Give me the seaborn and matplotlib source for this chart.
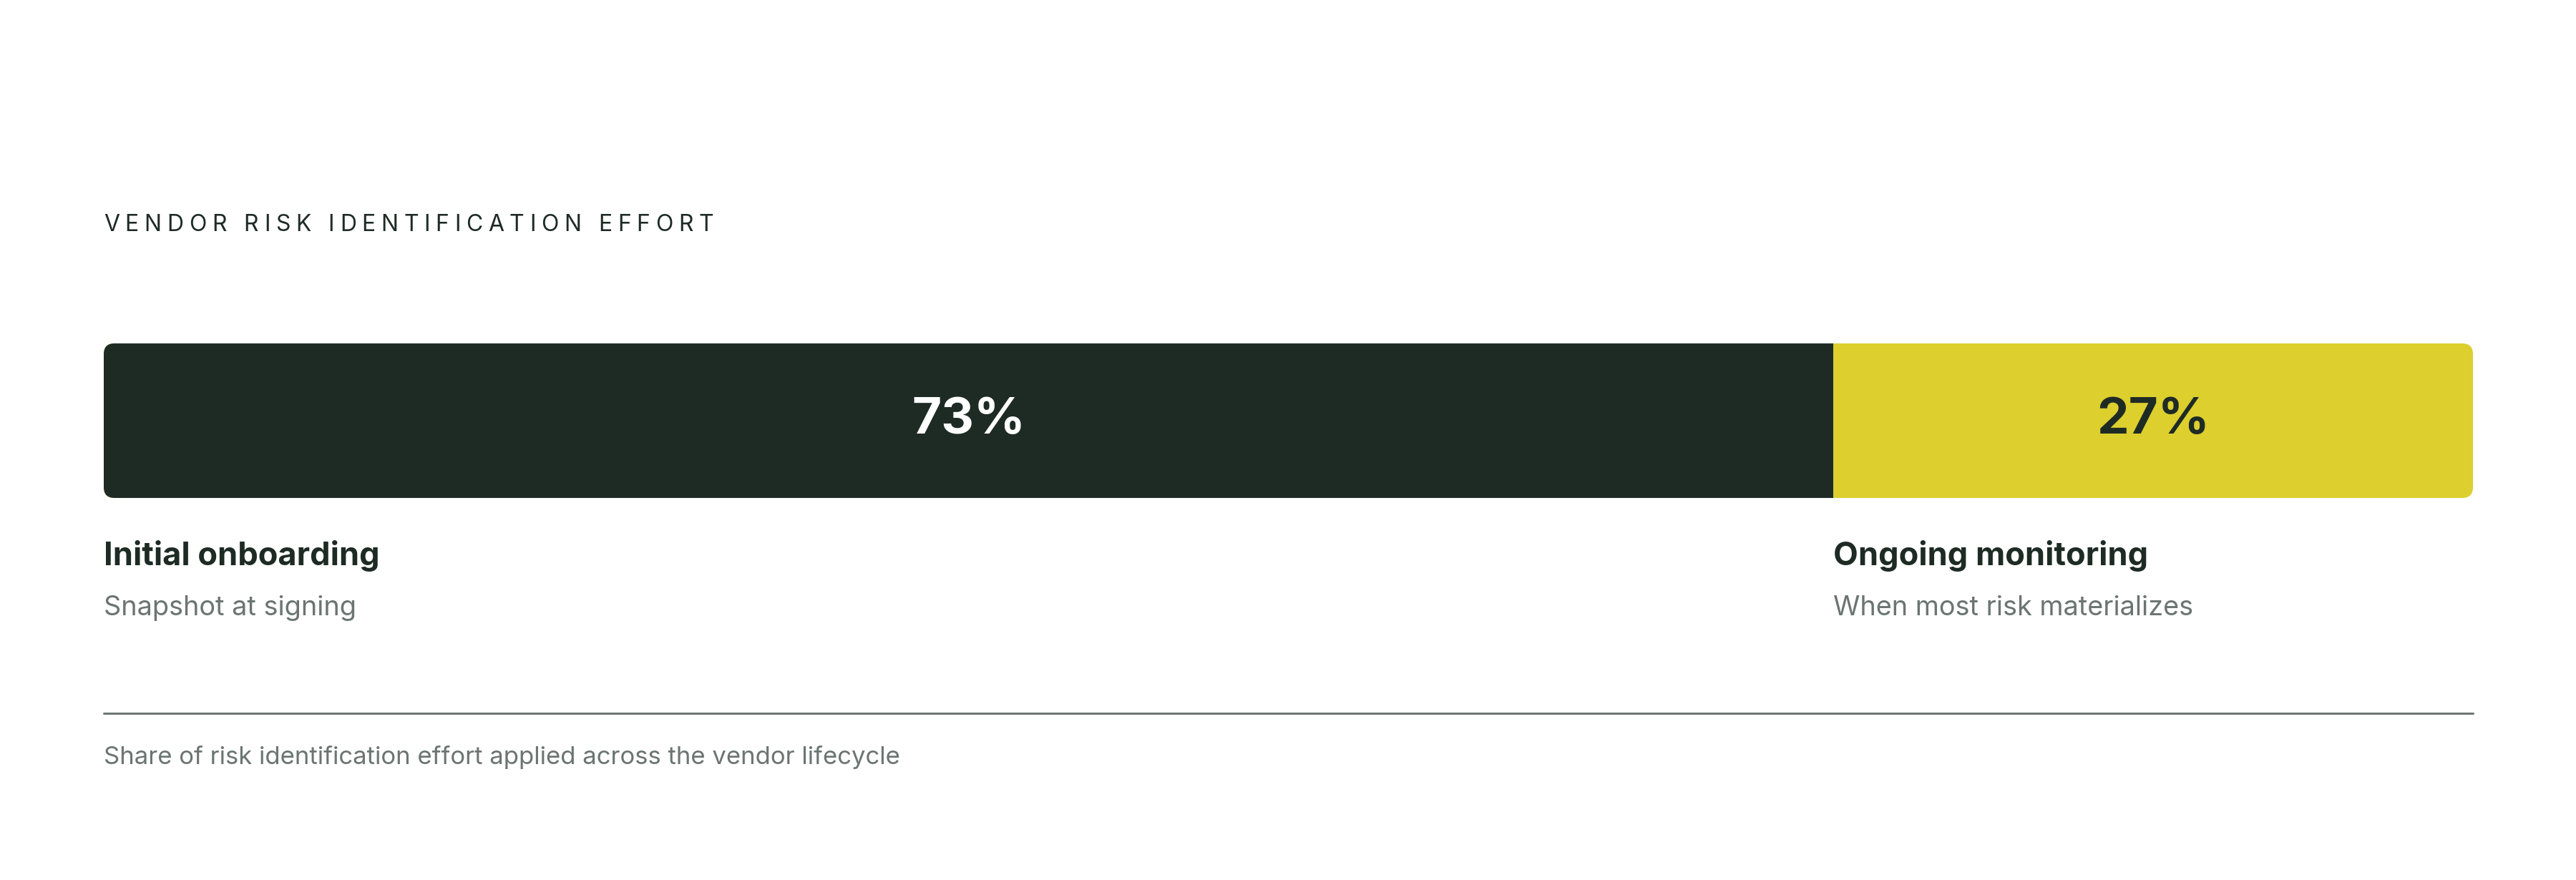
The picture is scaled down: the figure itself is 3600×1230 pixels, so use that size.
import numpy as np
import pandas as pd
import seaborn as sns
import matplotlib.pyplot as plt
from matplotlib.patches import FancyBboxPatch
from matplotlib.transforms import IdentityTransform, blended_transform_factory

# data
segments = ["Initial onboarding", "Ongoing monitoring"]
shares = [73, 27]
subtitles = ["Snapshot at signing", "When most risk materializes"]
title = "VENDOR RISK IDENTIFICATION EFFORT"
footnote = "Share of risk identification effort applied across the vendor lifecycle"

DARK = "#1e2b25"
YELLOW = "#dccf2e"
GREY = "#6b7571"
FONT = ["Inter", "DejaVu Sans"]

sns.set_theme(style="white")
plt.rcParams["font.family"] = FONT

W, H, DPI = 3600, 1230, 100
fig = plt.figure(figsize=(W / DPI, H / DPI), dpi=DPI)
fig.patch.set_facecolor("white")

def fx(px):
    return px / W

def fy(px):
    return 1 - px / H

# bar axes spans exactly the bar
bar_top, bar_bot = 480, 696
ax = fig.add_axes([fx(145), fy(bar_bot), fx(3456) - fx(145), (bar_bot - bar_top) / H])

df = pd.DataFrame({"segment": segments, "share": shares})
df["end"] = df["share"].cumsum()
df["start"] = df["end"] - df["share"]
df["row"] = "effort"

colors = [DARK, YELLOW]
# stacked by overlaying cumulative ends, widest first
for i in reversed(range(len(df))):
    sns.barplot(data=df.iloc[[i]], x="end", y="row", color=colors[i],
                width=1.0, saturation=1, orient="h", ax=ax)

ax.set_xlim(0, df["end"].iloc[-1])
ax.set_ylim(0.5, -0.5)
ax.axis("off")

# rounded outer corners via clip path in pixel space
fig.canvas.draw()
bb = ax.get_window_extent()
clip = FancyBboxPatch((bb.x0, bb.y0), bb.width, bb.height,
                      boxstyle="round,pad=0,rounding_size=15",
                      transform=IdentityTransform(), facecolor="none", edgecolor="none")
for p in ax.patches:
    p.set_clip_path(clip)
    p.set_linewidth(0)

# percent labels inside bar
pct_colors = ["white", DARK]
for i, r in df.iterrows():
    ax.text((r["start"] + r["end"]) / 2, 0, f"{r['share']}%", ha="center", va="center",
            fontsize=51, fontweight="bold", color=pct_colors[i], family=FONT)

# segment labels under the bar
tr = blended_transform_factory(ax.transData, fig.transFigure)
for i, r in df.iterrows():
    ax.text(r["start"], fy(790), r["segment"], transform=tr, ha="left", va="baseline",
            fontsize=32.5, fontweight="bold", color=DARK, family=FONT)
    ax.text(r["start"], fy(860), subtitles[i], transform=tr, ha="left", va="baseline",
            fontsize=27.3, color=GREY, family=FONT)

# letter-spaced title
renderer = fig.canvas.get_renderer()
tsize = 23
track = 0.24 * tsize * DPI / 72

def text_w(s):
    t = fig.text(0, 0, s, fontsize=tsize, family=FONT)
    w = t.get_window_extent(renderer).width
    t.remove()
    return w

x0 = 145
for i, ch in enumerate(title):
    if ch == " ":
        continue
    xpos = x0 + text_w(title[:i + 1]) - text_w(ch) + i * track
    fig.text(fx(xpos), fy(323), ch, fontsize=tsize, color=DARK, family=FONT,
             ha="left", va="baseline")

# divider and footnote
fig.add_artist(plt.Line2D([fx(145), fx(3456)], [fy(997), fy(997)],
                          color="#6f7874", linewidth=2.2, transform=fig.transFigure))
fig.text(fx(145), fy(1068), footnote, fontsize=25, color=GREY, family=FONT,
         ha="left", va="baseline")

fig.savefig("out.png", dpi=DPI, facecolor="white")
